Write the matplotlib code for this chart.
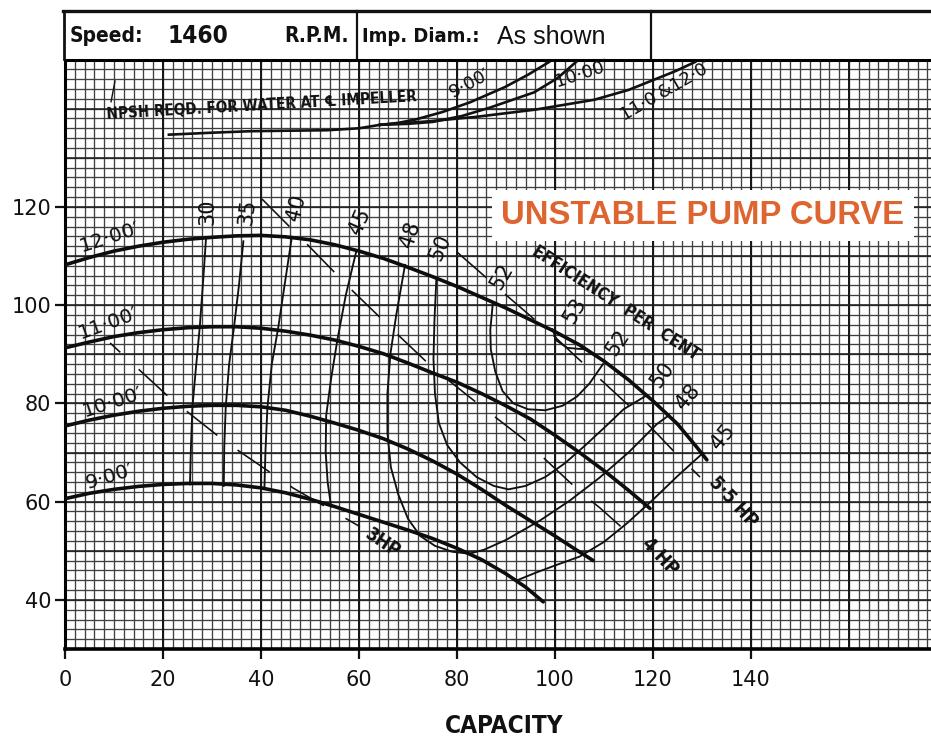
import os
import numpy as np
import matplotlib
matplotlib.use("Agg")
import matplotlib.pyplot as plt
import matplotlib.font_manager as fm
from matplotlib.lines import Line2D

plt.rcParams['lines.scale_dashes'] = False
plt.rcParams['font.family'] = ['DejaVu Sans']

# ---------------- data (capacity, head) ----------------
h12_q = [0, 5, 10, 15, 20, 25, 30, 35, 40, 45, 50, 55, 60, 65, 70, 75, 80, 85, 90, 95, 100, 105, 110, 115, 120, 125, 129, 131]
h12_h = [108.2, 109.7, 111.0, 112.0, 112.8, 113.4, 113.8, 114.1, 114.2, 113.9, 113.3, 112.3, 111.0, 109.5, 107.7, 105.8, 103.8, 101.6, 99.4, 97.0, 94.6, 91.9, 88.6, 84.8, 80.5, 75.8, 71.0, 68.5]
h11_q = [0, 5, 10, 15, 20, 25, 30, 35, 40, 45, 50, 55, 60, 65, 70, 75, 80, 85, 90, 95, 100, 105, 110, 115, 119.4]
h11_h = [91.3, 92.5, 93.6, 94.4, 95.0, 95.4, 95.6, 95.6, 95.3, 94.7, 93.9, 92.9, 91.6, 90.1, 88.2, 86.2, 84.3, 82.0, 79.5, 76.8, 73.5, 70.0, 66.3, 62.3, 58.6]
h10_q = [0, 5, 10, 15, 20, 25, 30, 35, 40, 45, 50, 55, 60, 65, 70, 75, 80, 85, 90, 95, 100, 104, 107.8]
h10_h = [75.4, 76.6, 77.6, 78.4, 79.0, 79.4, 79.6, 79.6, 79.3, 78.6, 77.4, 76.0, 74.5, 72.8, 70.7, 68.3, 65.6, 62.5, 59.2, 56.1, 53.0, 50.4, 48.0]
h9_q = [0, 5, 10, 15, 20, 25, 30, 35, 40, 45, 50, 55, 60, 65, 70, 75, 80, 85, 90, 94, 97.6]
h9_h = [60.6, 61.7, 62.5, 63.1, 63.5, 63.7, 63.7, 63.4, 62.8, 61.8, 60.5, 59.0, 57.4, 55.8, 54.2, 52.5, 50.5, 48.2, 45.3, 42.6, 39.6]
head_labels = ["12·00′", "11·00′", "10·00′", "9·00′"]
head_label_q = [9.2, 8.8, 9.8, 9.2]
head_label_h = [113.9, 96.3, 80.3, 65.2]
head_label_rot = [18, 20, 18, 17]

# efficiency contours (per cent)
e30_q = [28.8, 28.2, 27.5, 26.7, 26.0, 25.7, 25.5]
e30_h = [113.9, 105, 95.5, 87, 79.2, 71, 63.5]
e35_q = [36.4, 35.5, 34.5, 33.5, 32.8, 32.5, 32.4]
e35_h = [113.0, 104, 95.6, 88, 79.2, 71, 63.2]
e40_q = [46.3, 44.8, 43.5, 42.2, 41.3, 40.9, 40.7]
e40_h = [113.9, 104, 95.3, 88, 79, 70, 62.8]
e45a_q = [59.5, 57.3, 55.6, 54.3, 53.3, 53.2, 53.6, 54.3]
e45a_h = [111.2, 102, 93, 85, 77.5, 70, 64, 59]
e45b_q = [92.3, 96, 100, 105, 110, 114.7, 120, 125, 130.2]
e45b_h = [44.0, 45.5, 47.0, 48.8, 51.8, 55.6, 60.4, 65.2, 69.9]
e48_q = [69.4, 67.6, 66.4, 65.8, 65.8, 66.5, 68.0, 70.0, 72.5, 75.5, 79.0, 82.5, 85.5, 90.0, 97.0, 103.0, 109.0, 115.0, 120.8, 123.3]
e48_h = [108.2, 98, 90, 82, 74, 67, 61.5, 56.5, 53.0, 51.0, 49.8, 49.4, 50.2, 52.2, 56.2, 60.2, 64.8, 70.0, 75.8, 77.6]
e50_q = [75.8, 75.4, 75.2, 75.5, 76.3, 78.0, 80.6, 84.0, 87.5, 90.5, 94.0, 98.0, 102.0, 106.0, 110.0, 114.0, 118.5]
e50_h = [105.5, 97, 89, 82, 76, 71.5, 68.0, 65.0, 63.2, 62.5, 63.2, 65.0, 67.8, 71.3, 75.0, 78.8, 81.5]
e52_q = [87.3, 86.8, 86.9, 87.8, 89.3, 91.5, 94.5, 98.0, 101.5, 104.5, 107.0, 109.8]
e52_h = [100.3, 95, 91, 86.5, 82.5, 80.0, 78.8, 78.6, 79.5, 81.4, 84.0, 88.0]
e53_q = [99.5, 100.3, 102.5, 104.8, 106.5]
e53_h = [95.1, 92.8, 91.3, 91.1, 91.0]
eff_labels = ["30", "35", "40", "45", "48", "50", "52", "53", "52", "50", "48", "45"]
eff_label_q = [29.0, 37.1, 47.3, 60.2, 70.4, 76.5, 89.2, 104.1, 112.9, 122.0, 127.1, 134.3]
eff_label_h = [119.0, 119.0, 119.8, 117.0, 114.3, 111.7, 105.8, 99.0, 92.3, 85.8, 81.3, 73.2]
eff_label_rot = [90, 82, 76, 66, 72, 66, 60, 60, 56, 54, 50, 50]

# brake horse-power lines
hp3_q = [9.2, 21.4, 32.7, 46.5, 60.2]
hp3_h = [92.3, 81.1, 72.2, 62.8, 54.9]
hp4_q = [40.2, 49.4, 58.8, 67.8, 75.1, 83.3, 93.5, 105.1, 109.2, 114.7]
hp4_h = [121.6, 112.4, 102.8, 94.1, 87.2, 80.7, 72.8, 62.0, 58.7, 53.8]
hp55_q = [80.0, 90.2, 100.0, 108.6, 117.3, 124.0, 129.6]
hp55_h = [110.8, 101.9, 93.5, 85.5, 77.5, 70.5, 65.0]
hp_labels = ["3HP", "4 HP", "5·5 HP"]
hp_label_q = [64.9, 121.4, 136.3]
hp_label_h = [51.6, 48.8, 60.0]
hp_label_rot = [-34, -47, -47]

# NPSH required curves
npsh_base_q = [21.2, 30, 37.8, 45, 53.5, 60, 64.3]
npsh_base_h = [134.7, 135.1, 135.4, 135.5, 135.6, 136.0, 136.7]
npsh9_q = [64.3, 68, 71.6, 77, 82.7, 89.8, 94.5, 98.8]
npsh9_h = [136.7, 137.1, 137.8, 139.3, 141.3, 144.4, 146.9, 149.5]
npsh10_q = [64.3, 70, 75.1, 81, 86.7, 95.7, 100.5, 104.3]
npsh10_h = [136.7, 136.9, 137.3, 138.5, 140.2, 143.3, 146.2, 149.5]
npsh1112_q = [64.3, 74, 83.7, 96, 108, 115, 120, 124.5, 128.6]
npsh1112_h = [136.7, 137.4, 138.3, 139.8, 141.8, 143.8, 145.8, 147.6, 149.5]
npsh_leader_q = [9.4, 10.2]
npsh_leader_h = [141.4, 145.6]
npsh_labels = ["9·00′", "10·00′", "11·0′&12·0′"]
npsh_label_q = [82.6, 105.5, 122.5]
npsh_label_h = [145.2, 147.0, 143.8]
npsh_label_rot = [28, 18, 30]

x_ticks = [0, 20, 40, 60, 80, 100, 120, 140]
y_ticks = [40, 60, 80, 100, 120]


# ---------------- pick a condensed sans face, if one is installed ----------------
def _wnum(w):
    if isinstance(w, (int, float)):
        return float(w)
    return float(fm.weight_dict.get(str(w).lower(), 400))


def pick_condensed(target_weight):
    prio = ['liberation sans narrow', 'arial narrow', 'dejavu sans condensed',
            'dejavu sans', 'noto sans', 'roboto condensed', 'roboto',
            'open sans condensed', 'open sans']
    best, best_score = None, None
    for f in fm.fontManager.ttflist:
        nm = f.name.lower()
        fn = os.path.basename(f.fname).lower()
        cond = ('narrow' in nm or 'condensed' in nm or 'narrow' in fn or
                'condensed' in fn or f.stretch in ('condensed', 'semi-condensed'))
        if not cond or 'extracondensed' in fn or 'extra' in str(f.stretch):
            continue
        if 'mono' in nm or 'serif' in nm.replace('sans', '') and 'sans' not in nm:
            continue
        if 'italic' in fn or 'oblique' in fn or f.style != 'normal':
            continue
        p = next((i for i, n in enumerate(prio) if nm.startswith(n)), len(prio))
        semi = 1 if ('semi' in fn or 'semi' in str(f.stretch)) else 0
        score = p * 10 + semi * 3 + abs(_wnum(f.weight) - target_weight) / 100.0
        if best_score is None or score < best_score:
            best, best_score = f, score
    return best


cb = pick_condensed(700)
if cb is not None:
    NB = dict(family=[cb.name, 'DejaVu Sans'], fontweight=cb.weight, fontstretch=cb.stretch)
    KB = 1.0
else:
    NB = dict(family=['DejaVu Sans'], fontweight='bold')
    KB = 0.9

# ---------------- figure ----------------
W, H = 931, 740
fig = plt.figure(figsize=(W / 100, H / 100), dpi=100)
fig.patch.set_facecolor('white')
ax = fig.add_axes([65 / W, (H - 649) / H, (W - 65) / W, (649 - 59.5) / H])
xmax = (W - 65) / 4.9
ax.set_xlim(0, xmax)
ax.set_ylim(30, 150)

# graph paper
fine_x = np.arange(0, xmax + 0.1, 2)
fine_y = np.arange(30, 150.1, 2)
ax.vlines(fine_x, 30, 150, colors='#404040', lw=0.95, zorder=0)
ax.hlines(fine_y, 0, xmax, colors='#404040', lw=0.95, zorder=0)
ax.vlines(np.arange(0, xmax, 20), 30, 150, colors='#151515', lw=1.4, zorder=0)
ax.hlines(np.arange(30, 151, 10), 0, xmax, colors='#202020', lw=1.15, zorder=0)

# head curves
for q, h in [(h12_q, h12_h), (h11_q, h11_h), (h10_q, h10_h), (h9_q, h9_h)]:
    ax.plot(q, h, color='#0d0d0d', lw=2.6, solid_capstyle='round', zorder=4)
for t, q, h, r in zip(head_labels, head_label_q, head_label_h, head_label_rot):
    ax.text(q, h, t, fontsize=14.5, rotation=r, rotation_mode='anchor',
            ha='center', va='center', color='#111111', zorder=6)

# efficiency contours
for q, h in [(e30_q, e30_h), (e35_q, e35_h), (e40_q, e40_h), (e45a_q, e45a_h),
             (e45b_q, e45b_h), (e48_q, e48_h), (e50_q, e50_h), (e52_q, e52_h),
             (e53_q, e53_h)]:
    ax.plot(q, h, color='#111111', lw=1.35, zorder=3)
for t, q, h, r in zip(eff_labels, eff_label_q, eff_label_h, eff_label_rot):
    ax.text(q, h, t, fontsize=15, rotation=r, rotation_mode='anchor',
            ha='center', va='center', color='#111111', zorder=6)
ax.text(112.4, 100.5, "EFFICIENCY  PER  CENT", fontsize=12 * KB, rotation=-33,
        rotation_mode='anchor', ha='center', va='center', color='#111111', zorder=6, **NB)

# horse-power lines
for q, h, off in [(hp3_q, hp3_h, 18), (hp4_q, hp4_h, 0), (hp55_q, hp55_h, 0)]:
    ax.plot(q, h, color='#111111', lw=1.15, linestyle=(off, (28, 18)), zorder=3)
for t, q, h, r in zip(hp_labels, hp_label_q, hp_label_h, hp_label_rot):
    ax.text(q, h, t, fontsize=13.5 * KB, rotation=r, rotation_mode='anchor',
            ha='center', va='center', color='#111111', zorder=6, **NB)

# NPSH curves
for q, h in [(npsh_base_q, npsh_base_h), (npsh9_q, npsh9_h),
             (npsh10_q, npsh10_h), (npsh1112_q, npsh1112_h)]:
    ax.plot(q, h, color='#111111', lw=1.9, zorder=3)
ax.plot(npsh_leader_q, npsh_leader_h, color='#111111', lw=1.0, zorder=3)
ax.text(40.2, 140.6, "NPSH REQD. FOR WATER AT ℄ IMPELLER", fontsize=11 * KB,
        rotation=3.3, rotation_mode='anchor', ha='center', va='center',
        color='#111111', zorder=6, **NB)
for t, q, h, r in zip(npsh_labels, npsh_label_q, npsh_label_h, npsh_label_rot):
    ax.text(q, h, t, fontsize=13, rotation=r, rotation_mode='anchor',
            ha='center', va='center', color='#111111', zorder=6)

# title overlay
ax.text(130.2, 118.2, "UNSTABLE PUMP CURVE", fontsize=23.6, fontweight='bold',
        family=['Liberation Sans', 'DejaVu Sans'], color='#DE6530',
        ha='center', va='center', zorder=7,
        bbox=dict(boxstyle='square,pad=0.3', fc='white', ec='none'))

# axes styling
ax.spines['right'].set_visible(False)
ax.spines['left'].set_linewidth(2.2)
ax.spines['bottom'].set_linewidth(2.6)
ax.spines['top'].set_linewidth(2.2)
ax.set_xticks(x_ticks)
ax.set_yticks(y_ticks)
ax.tick_params(axis='both', direction='out', length=7, width=1.6, labelsize=15,
               colors='#111111')
ax.tick_params(axis='x', pad=8)
ax.tick_params(axis='y', pad=3)
ax.set_xlabel("CAPACITY", fontsize=17.5 * KB, color='#111111', **NB)
ax.xaxis.set_label_coords((504 - 65) / 866, (649 - 726) / 589.5)
ax.xaxis.label.set_va('center')


# header box
def fl(x0, y0, x1, y1, lw):
    fig.add_artist(Line2D([x0 / W, x1 / W], [1 - y0 / H, 1 - y1 / H],
                          transform=fig.transFigure, color='#111111', lw=lw))


fl(63, 11, W, 11, 2.4)
fl(64, 11, 64, 59, 2.0)
fl(357, 11, 357, 59, 1.6)
fl(651, 11, 651, 59, 1.6)

fig.text(106 / W, 1 - 36 / H, "Speed:", fontsize=15 * KB,
         ha='center', va='center', color='#111111', **NB)
fig.text(198 / W, 1 - 36 / H, "1460", fontsize=17.5 * KB,
         ha='center', va='center', color='#111111', **NB)
fig.text(317 / W, 1 - 36 / H, "R.P.M.", fontsize=15 * KB,
         ha='center', va='center', color='#111111', **NB)
fig.text(421 / W, 1 - 36 / H, "Imp. Diam.:", fontsize=14.5 * KB,
         ha='center', va='center', color='#111111', **NB)
fig.text(551 / W, 1 - 37 / H, "As shown", fontsize=18,
         family=['Liberation Sans', 'DejaVu Sans'], ha='center', va='center', color='#111111')

fig.savefig("out.png", dpi=100, facecolor='white')
